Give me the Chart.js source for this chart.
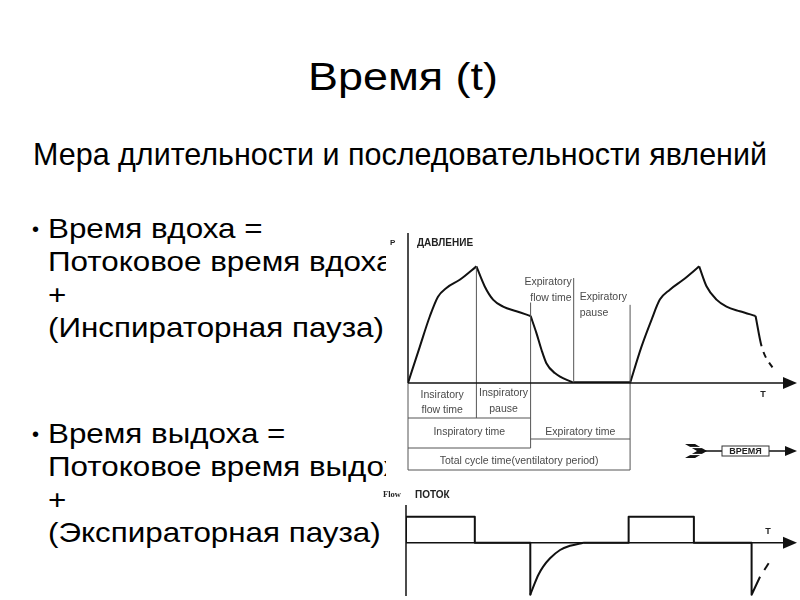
<!DOCTYPE html>
<html>
<head>
<meta charset="utf-8">
<script src="https://cdn.jsdelivr.net/npm/chart.js@4.4.1/dist/chart.umd.min.js"></script>
<style>
html, body { margin: 0; padding: 0; background: #fff; }
#slide { position: relative; width: 800px; height: 600px; overflow: hidden; font-family: "Liberation Sans", Arial, sans-serif; color: #000; }
.txt { position: absolute; white-space: nowrap; line-height: 1; transform-origin: 0 0; }
#cover { position: absolute; left: 386px; top: 222px; width: 414px; height: 378px; background: #fff; z-index: 1; }
canvas { position: absolute; z-index: 2; }
</style>
</head>
<body>
<div id="slide">
  <div id="cover"></div>
  <canvas id="pressureChart" width="430" height="255" style="left:370px;top:225px"></canvas>
  <canvas id="flowChart" width="430" height="120" style="left:370px;top:480px"></canvas>
</div>
<script>
// тексты слайда
const titleText = 'Время (t)';
const subtitleText = 'Мера длительности и последовательности явлений';
const inhaleLines = ['Время вдоха =', 'Потоковое время вдоха', '+', '(Инспираторная пауза)'];
const exhaleLines = ['Время выдоха =', 'Потоковое время выдоха', '+', '(Экспираторная пауза)'];

// кривая давления (время в % цикла, давление в % от пика)
const pressureTime = [0, 5.3, 9.8, 13.5, 17.3, 23.3, 30.8, 34.5, 38.3, 42.8, 48.8, 55.2, 57.8, 60.1, 62.3, 66.1, 74.6,
  100, 105.1, 109.6, 113.4, 117.9, 123.9, 131.1, 134.4, 138.9, 143.4, 149.4, 156.5, 159.2, 165.2];
const pressureValue = [0, 31, 57, 74, 81.5, 88.5, 100, 83, 71.5, 65.5, 61.5, 57.5, 43, 28.5, 17, 8.5, 0,
  0, 31, 54, 71.5, 80, 88.5, 100, 83, 71.5, 65.5, 61.5, 57.5, 31.5, 10];
// изломы кривой давления (индексы точек)
const pressureCorners = [6, 11, 16, 17, 23, 28];

// кривая потока
const flowTime = [0, 0, 31, 31, 56, 56, 57.4, 59.6, 61.8, 64.9, 69.4, 73.9, 79.9, 100.3, 100.3, 129.7, 129.7, 155.7, 155.7, 159.5, 165.2];
const flowValue = [0, 1, 1, 0, 0, -2, -1.69, -1.24, -0.92, -0.6, -0.28, -0.12, 0, 0, 1, 1, 0, 0, -2, -1.31, -0.55];
const flowCorners = [5, 12];

// фазы цикла: начало, конец потока вдоха, конец вдоха, конец потока выдоха, конец цикла
const phaseTimes = [0, 30.8, 55.2, 74.6, 100];
const phaseMarkTop = [0, 100, 69, 90, 67];

const slide = document.getElementById('slide');

function addText(str, left, baseline, size) {
  const el = document.createElement('div');
  el.className = 'txt';
  el.textContent = str;
  el.style.fontSize = size + 'px';
  el.style.left = left + 'px';
  el.style.top = (baseline - 0.8465 * size) + 'px';
  slide.appendChild(el);
  return el;
}
function fitWidth(el, w) {
  const k = w / el.getBoundingClientRect().width;
  el.style.transform = 'scaleX(' + k + ')';
  return k;
}

fitWidth(addText(titleText, 308, 90, 38), 190);
fitWidth(addText(subtitleText, 33, 166, 31.5), 734);

const bulletBase = [[238.3, 271.7, 304.5, 337.5], [443.3, 476.7, 509.5, 542.5]];
const bulletEls = [];
let bulletScale = 1;
[inhaleLines, exhaleLines].forEach((lines, b) => {
  addText('•', 32, bulletBase[b][0] - 2.5, 20);
  lines.forEach((s, i) => {
    const el = addText(s, 48, bulletBase[b][i], 28);
    bulletEls.push(el);
    if (b === 0 && i === 3) bulletScale = 336 / el.getBoundingClientRect().width;
  });
});
bulletEls.forEach(el => { el.style.transform = 'scaleX(' + bulletScale + ')'; });

function line(ctx, x1, y1, x2, y2) {
  ctx.beginPath(); ctx.moveTo(x1, y1); ctx.lineTo(x2, y2); ctx.stroke();
}
function arrowHead(ctx, tipX, y, len, half) {
  ctx.beginPath(); ctx.moveTo(tipX, y); ctx.lineTo(tipX - len, y - half); ctx.lineTo(tipX - len, y + half); ctx.closePath(); ctx.fill();
}

const pressureDecor = {
  id: 'pressureDecor',
  afterDatasetsDraw(chart) {
    const { ctx, chartArea: a, scales: { x, y } } = chart;
    const X = t => x.getPixelForValue(t);
    const Y = p => y.getPixelForValue(p);
    const [t0, tInsFlow, tInsp, tExpFlow, tCycle] = phaseTimes;
    const b = a.bottom;
    ctx.save();
    // тонкие линии фаз и рамки
    ctx.strokeStyle = '#555'; ctx.lineWidth = 1;
    line(ctx, X(t0), b, X(t0), b + 87);
    line(ctx, X(tInsFlow), Y(phaseMarkTop[1]), X(tInsFlow), b + 35);
    line(ctx, X(tInsp), Y(phaseMarkTop[2]), X(tInsp), b + 65);
    line(ctx, X(tExpFlow), Y(phaseMarkTop[3]), X(tExpFlow), b);
    line(ctx, X(tCycle), Y(phaseMarkTop[4]), X(tCycle), b + 87);
    line(ctx, X(t0), b + 35, X(tInsp), b + 35);
    line(ctx, X(t0), b + 65, X(tInsp), b + 65);
    line(ctx, X(tInsp), b + 56, X(tCycle), b + 56);
    line(ctx, X(t0), b + 87, X(tCycle), b + 87);
    // оси
    ctx.strokeStyle = '#111'; ctx.fillStyle = '#111'; ctx.lineWidth = 1.5;
    line(ctx, a.left, a.top, a.left, b);
    line(ctx, a.left, b, a.right - 6, b);
    arrowHead(ctx, a.right + 7, b, 14, 6);
    // подписи
    ctx.font = 'bold 10px "Liberation Sans", Arial';
    ctx.textBaseline = 'middle'; ctx.textAlign = 'left';
    ctx.fillStyle = '#222';
    ctx.fillText('ДАВЛЕНИЕ', a.left + 9, a.top + 10);
    ctx.font = 'bold 8px "Liberation Sans", Arial';
    ctx.fillText('P', a.left - 18, a.top + 10);
    ctx.font = 'bold 9px "Liberation Sans", Arial';
    ctx.textAlign = 'center';
    ctx.fillText('T', a.right - 27, b + 12);

    ctx.font = '10.5px "Liberation Sans", Arial';
    ctx.fillStyle = '#4a4a4a';
    const mid = (p, q) => (X(p) + X(q)) / 2;
    ctx.fillText('Insiratory', mid(t0, tInsFlow), b + 12);
    ctx.fillText('flow time', mid(t0, tInsFlow), b + 27);
    ctx.fillText('Inspiratory', mid(tInsFlow, tInsp), b + 10);
    ctx.fillText('pause', mid(tInsFlow, tInsp), b + 26);
    ctx.fillText('Inspiratory time', mid(t0, tInsp), b + 49);
    ctx.fillText('Expiratory time', mid(tInsp, tCycle), b + 49);
    ctx.fillText('Total cycle time(ventilatory period)', mid(t0, tCycle), b + 78);
    ctx.textAlign = 'right';
    ctx.fillText('Expiratory', X(tExpFlow) - 2, Y(phaseMarkTop[3]) + 4);
    ctx.fillText('flow time', X(tExpFlow) - 2, Y(phaseMarkTop[3]) + 20);
    ctx.textAlign = 'left';
    ctx.fillText('Expiratory', X(tExpFlow) + 6, Y(phaseMarkTop[3]) + 19);
    ctx.fillText('pause', X(tExpFlow) + 6, Y(phaseMarkTop[3]) + 35);

    // стрелка «ВРЕМЯ»
    const cy = b + 68, fx = a.right - 105;
    ctx.fillStyle = '#111';
    ctx.beginPath();
    ctx.moveTo(fx, cy - 7); ctx.lineTo(fx + 10, cy - 7); ctx.lineTo(fx + 22, cy);
    ctx.lineTo(fx + 10, cy + 7); ctx.lineTo(fx, cy + 7); ctx.lineTo(fx + 12, cy);
    ctx.closePath(); ctx.fill();
    ctx.strokeStyle = '#fff'; ctx.lineWidth = 1.2;
    line(ctx, fx + 2, cy - 3.5, fx + 18, cy - 3.5);
    line(ctx, fx + 2, cy + 3.5, fx + 18, cy + 3.5);
    ctx.strokeStyle = '#111'; ctx.lineWidth = 1.5;
    line(ctx, fx + 20, cy, a.right - 68, cy);
    line(ctx, a.right - 21, cy, a.right - 5, cy);
    arrowHead(ctx, a.right + 7, cy, 12, 5);
    ctx.lineWidth = 1; ctx.strokeStyle = '#333';
    ctx.strokeRect(a.right - 68, cy - 5, 47, 10);
    ctx.font = 'bold 9px "Liberation Sans", Arial';
    ctx.textAlign = 'center'; ctx.fillStyle = '#222';
    ctx.fillText('ВРЕМЯ', a.right - 44.5, cy + 0.5);
    ctx.restore();
  }
};

const flowDecor = {
  id: 'flowDecor',
  afterDatasetsDraw(chart) {
    const { ctx, chartArea: a, scales: { y } } = chart;
    const y0 = y.getPixelForValue(0);
    ctx.save();
    ctx.strokeStyle = '#111'; ctx.fillStyle = '#111'; ctx.lineWidth = 1.5;
    line(ctx, a.left, a.top, a.left, a.bottom);
    line(ctx, a.left, y0, a.right - 6, y0);
    arrowHead(ctx, a.right + 7, y0, 14, 6);
    ctx.textBaseline = 'middle'; ctx.textAlign = 'left';
    ctx.fillStyle = '#222';
    ctx.font = 'bold 8.5px "Liberation Serif", serif';
    ctx.fillText('Flow', a.left - 23, a.top - 10);
    ctx.font = 'bold 10px "Liberation Sans", Arial';
    ctx.fillText('ПОТОК', a.left + 9, a.top - 10);
    ctx.font = 'bold 9px "Liberation Sans", Arial';
    ctx.textAlign = 'center';
    ctx.fillText('T', a.right - 22, y0 - 11);
    ctx.restore();
  }
};

// режем кривую на куски по изломам; гладкие куски — monotone
function curvePieces(xs, ys, corners, isSmooth, dashed) {
  const cuts = [0, ...corners, xs.length - 1];
  const sets = [];
  for (let k = 0; k < cuts.length - 1; k++) {
    const from = cuts[k], to = cuts[k + 1];
    const pts = [];
    for (let i = from; i <= to; i++) pts.push({ x: xs[i], y: ys[i] });
    const flat = pts.every(p => p.y === 0);
    const last = to === xs.length - 1;
    sets.push({
      data: pts,
      borderColor: '#111',
      borderWidth: flat ? 3.5 : 2,
      borderJoinStyle: 'round',
      fill: false,
      cubicInterpolationMode: isSmooth(k) ? 'monotone' : 'default',
      tension: 0,
      segment: last ? {
        borderDash: c => c.p1DataIndex === pts.length - 1 ? dashed : undefined,
        borderDashOffset: c => c.p1DataIndex === pts.length - 1 ? dashed[0] : undefined
      } : undefined
    });
  }
  return sets;
}

function baseOptions(padding, xMax, yMin, yMax) {
  return {
    responsive: false,
    animation: false,
    layout: { padding: padding },
    plugins: { legend: { display: false }, tooltip: { enabled: false } },
    scales: {
      x: { type: 'linear', display: false, min: 0, max: xMax },
      y: { display: false, min: yMin, max: yMax }
    },
    elements: { point: { radius: 0 } }
  };
}

new Chart(document.getElementById('pressureChart'), {
  type: 'line',
  data: { datasets: curvePieces(pressureTime, pressureValue, pressureCorners, () => true, [6, 6]) },
  options: baseOptions({ left: 38, right: 10, top: 8, bottom: 97 }, 172, 0, 128.6),
  plugins: [pressureDecor]
});

new Chart(document.getElementById('flowChart'), {
  type: 'line',
  data: { datasets: curvePieces(flowTime, flowValue, flowCorners, k => k === 1, [8, 8]) },
  options: baseOptions({ left: 36, right: 10, top: 25, bottom: 4 }, 173, -2.05, 1.45),
  plugins: [flowDecor]
});
</script>
</body>
</html>
